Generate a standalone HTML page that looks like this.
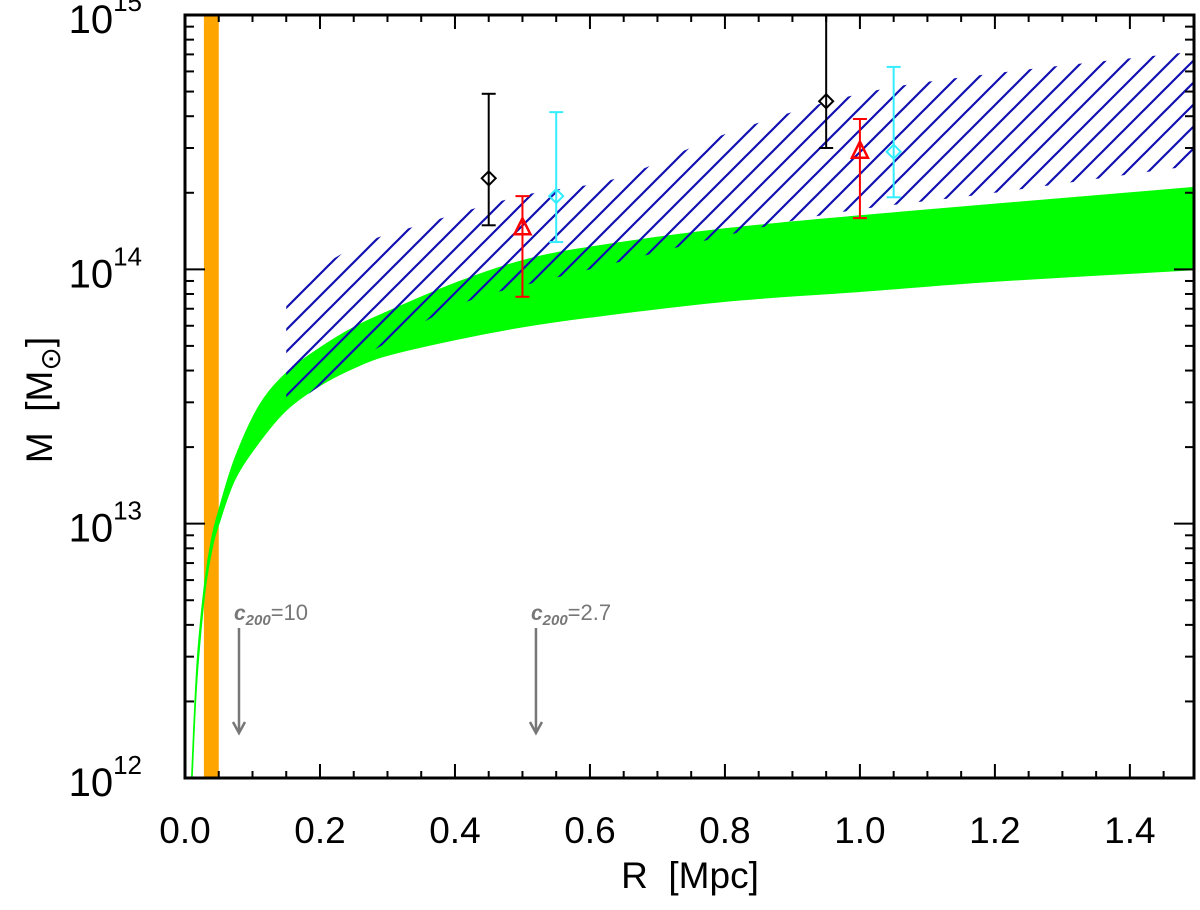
<!DOCTYPE html>
<html><head><meta charset="utf-8"><style>
html,body{margin:0;padding:0;background:#fff;}
svg{display:block;font-family:"Liberation Sans",Helvetica,sans-serif;}
</style></head><body>
<svg id="chart" width="1200" height="910" viewBox="0 0 1200 910">
<defs>
<clipPath id="plotclip"><rect x="185" y="15" width="1009" height="763"/></clipPath>
<pattern id="hatch" patternUnits="userSpaceOnUse" width="22" height="22">
<line x1="0" y1="22" x2="22" y2="0" stroke="#1010b0" stroke-width="2.2"/>
<line x1="-11" y1="11" x2="11" y2="-11" stroke="#1010b0" stroke-width="2.2"/>
<line x1="11" y1="33" x2="33" y2="11" stroke="#1010b0" stroke-width="2.2"/>
</pattern>
</defs>
<g id="plot" clip-path="url(#plotclip)"></g>
<g id="axes"></g>
<text x="690" y="888" text-anchor="middle" font-size="37" xml:space="preserve">R  [Mpc]</text>
<text transform="translate(52,400) rotate(-90)" text-anchor="middle" font-size="37" xml:space="preserve">M  [M<tspan font-size="28" dy="8">⊙</tspan><tspan dy="-8">]</tspan></text>
</svg>
<script>
// ---- data ----
const greenR = [0.01,0.015,0.02,0.03,0.04,0.05,0.074,0.11,0.15,0.2,0.25,0.3,0.4,0.5,0.6,0.8,1.0,1.2,1.5];
const greenUpper = [1.0e12,2.0e12,3.3e12,6.0e12,8.8e12,1.12e13,1.8e13,2.9e13,3.9e13,4.9e13,5.9e13,6.8e13,8.8e13,1.08e14,1.22e14,1.44e14,1.62e14,1.8e14,2.1e14];
const greenLower = [0.95e12,1.9e12,3.0e12,5.6e12,8.0e12,1.0e13,1.5e13,2.1e13,2.8e13,3.5e13,4.1e13,4.6e13,5.3e13,5.95e13,6.5e13,7.5e13,8.2e13,9.0e13,1.0e14];
const hatchUpperR = [0.15,0.25,0.35,0.5,0.64,0.8,1.0,1.2,1.5];
const hatchUpper = [8.3e13,1.22e14,1.5e14,1.95e14,2.28e14,3.4e14,4.9e14,5.9e14,7.2e14];
const hatchLowerR = [0.15,0.25,0.32,0.42,0.6,0.92,1.2,1.5];
const hatchLower = [2.8e13,4.3e13,5.5e13,7.5e13,1.0e14,1.59e14,2.0e14,2.57e14];
const blackR = [0.45,0.95], blackM = [2.28e14,4.58e14], blackHi = [4.9e14,1.1e15], blackLo = [1.49e14,3.0e14];
const redR = [0.5,1.0], redM = [1.45e14,2.9e14], redHi = [1.94e14,3.9e14], redLo = [7.8e13,1.59e14];
const cyanR = [0.55,1.05], cyanM = [1.94e14,2.9e14], cyanHi = [4.15e14,6.25e14], cyanLo = [1.28e14,1.92e14];
const orangeBand = [0.028,0.05];
const arrowR = [0.08,0.52];
const arrowC = ["10","2.7"];
const xTicks = [0,0.2,0.4,0.6,0.8,1.0,1.2,1.4];
const xTickLabels = ["0.0","0.2","0.4","0.6","0.8","1.0","1.2","1.4"];
const yDecades = [12,13,14,15];

// ---- axes ----
const X0=185,X1=1194,Y0=778,Y1=15,XMAX=1.495;
const xs = r => X0 + r/XMAX*(X1-X0);
const ys = m => Y0 - (Math.log10(m)-12)/3*(Y0-Y1);
const NS="http://www.w3.org/2000/svg";
const plot=document.getElementById('plot'), axes=document.getElementById('axes');
function mk(tag,attrs,parent){const e=document.createElementNS(NS,tag);for(const k in attrs)e.setAttribute(k,attrs[k]);parent.appendChild(e);return e;}
function smooth(pts){
  let s='';
  for(let i=0;i<pts.length-1;i++){
    const p0=pts[Math.max(i-1,0)],p1=pts[i],p2=pts[i+1],p3=pts[Math.min(i+2,pts.length-1)];
    const c1=[p1[0]+(p2[0]-p0[0])/6,p1[1]+(p2[1]-p0[1])/6];
    const c2=[p2[0]-(p3[0]-p1[0])/6,p2[1]-(p3[1]-p1[1])/6];
    s+=` C${c1[0]},${c1[1]} ${c2[0]},${c2[1]} ${p2[0]},${p2[1]}`;
  }
  return s;
}

const ob=mk('rect',{x:xs(orangeBand[0]),y:Y1,width:xs(orangeBand[1])-xs(orangeBand[0]),height:Y0-Y1,fill:'#ffa500'},plot);



const up=greenR.map((r,i)=>[xs(r),ys(greenUpper[i])]);
const lo=greenR.map((r,i)=>[xs(r),ys(greenLower[i])]).reverse();
const d='M'+up[0][0]+','+up[0][1]+smooth(up)+' L'+lo[0][0]+','+lo[0][1]+smooth(lo)+'Z';
const gp=mk('path',{d:d,fill:'#00ff00',stroke:'#00ff00','stroke-width':1.5,'stroke-linejoin':'round'},plot);



const hu=hatchUpperR.map((r,i)=>[xs(r),ys(hatchUpper[i])]);
const hl=hatchLowerR.map((r,i)=>[xs(r),ys(hatchLower[i])]).reverse();
const h='M'+hu[0][0]+','+hu[0][1]+smooth(hu)+' L'+hl[0][0]+','+hl[0][1]+smooth(hl)+'Z';
const hp=mk('path',{d:h,fill:'url(#hatch)'},plot);



function series(R,M,Hi,Lo,color,shape,name){
  R.forEach((r,i)=>{
    const g=mk('g',{},plot);
    
    
    const x=xs(r);
    mk('line',{x1:x,x2:x,y1:ys(Hi[i]),y2:ys(Lo[i]),stroke:color,'stroke-width':2},g);
    mk('line',{x1:x-7,x2:x+7,y1:ys(Hi[i]),y2:ys(Hi[i]),stroke:color,'stroke-width':2},g);
    mk('line',{x1:x-7,x2:x+7,y1:ys(Lo[i]),y2:ys(Lo[i]),stroke:color,'stroke-width':2},g);
    const y=ys(M[i]);
    if(shape==='d') mk('polygon',{points:`${x},${y-7} ${x+7},${y} ${x},${y+7} ${x-7},${y}`,fill:'none',stroke:color,'stroke-width':2},g);
    else mk('polygon',{points:`${x},${y-10} ${x+8},${y+6} ${x-8},${y+6}`,fill:'none',stroke:color,'stroke-width':2.5},g);
  });
}
series(blackR,blackM,blackHi,blackLo,'#000','d','black-diamond');
series(redR,redM,redHi,redLo,'#ff0000','t','red-triangle');
series(cyanR,cyanM,cyanHi,cyanLo,'#33eeff','d','cyan-diamond');

arrowR.forEach((r,i)=>{
  const g=mk('g',{},axes);
  
  
  const x=xs(r);
  mk('line',{x1:x,x2:x,y1:628,y2:732,stroke:'#777','stroke-width':2.5},g);
  mk('polyline',{points:`${x-6},${722} ${x},${733} ${x+6},${722}`,fill:'none',stroke:'#777','stroke-width':2.5},g);
  const t=mk('text',{x:x-5,y:620,fill:'#777','font-size':22},g);
  t.innerHTML=`<tspan font-style="italic" font-weight="bold" font-size="21">c</tspan><tspan font-style="italic" font-weight="bold" font-size="15" dy="5">200</tspan><tspan dy="-5">=${arrowC[i]}</tspan>`;
});

const fr=mk('rect',{x:X0,y:Y1,width:X1-X0,height:Y0-Y1,fill:'none',stroke:'#000','stroke-width':3},axes);



for(let v=0;v<=XMAX+1e-9;v+=0.05){
  const major=Math.abs(v/0.2-Math.round(v/0.2))<1e-6;
  const L=major?14:7, x=xs(v);
  mk('line',{x1:x,x2:x,y1:Y0,y2:Y0-L,stroke:'#000','stroke-width':2},axes);
  mk('line',{x1:x,x2:x,y1:Y1,y2:Y1+L,stroke:'#000','stroke-width':2},axes);
}
xTicks.forEach((v,i)=>{
  const t=mk('text',{x:xs(v),y:843,'text-anchor':'middle','font-size':37},axes);
  t.textContent=xTickLabels[i];
  
  
});
yDecades.forEach(e=>{
  for(let k=1;k<=9;k++){
    const m=k*Math.pow(10,e); if(Math.log10(m)>15.0001)break;
    const L=k===1?20:9, y=ys(m);
    mk('line',{x1:X0,x2:X0+L,y1:y,y2:y,stroke:'#000','stroke-width':2},axes);
    mk('line',{x1:X1,x2:X1-L,y1:y,y2:y,stroke:'#000','stroke-width':2},axes);
  }
  const t=mk('text',{x:142,y:ys(Math.pow(10,e))+18,'text-anchor':'end','font-size':40},axes);
  t.innerHTML=`10<tspan font-size="26" dy="-22">${e}</tspan>`;
  
  
});
</script>
</body></html>
